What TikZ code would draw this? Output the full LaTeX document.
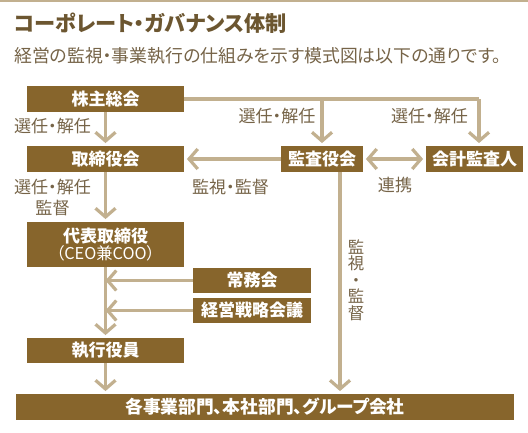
\documentclass[tikz,border=0pt]{standalone}
\usepackage{fontspec}
\setmainfont{Noto Sans CJK JP}[RawFeature={+palt}]
\usetikzlibrary{arrows.meta,calc}
\definecolor{boxbrown}{RGB}{135,101,44}
\definecolor{linetan}{RGB}{194,176,143}
\definecolor{labeltxt}{RGB}{118,100,72}
\definecolor{titletxt}{RGB}{108,86,48}
\tikzset{
  box/.style={fill=boxbrown, text=white, inner sep=0pt, font=\fontsize{12.75}{14}\selectfont\bfseries, minimum height=19.5pt},
  conn/.style={draw=linetan, line width=2.4pt},
  arr/.style={conn, -{Straight Barb[length=6.5pt,width=15pt,line width=2.4pt]}, shorten >=2pt},
  darr/.style={conn, {Straight Barb[length=6.5pt,width=15pt,line width=2.4pt]}-{Straight Barb[length=6.5pt,width=15pt,line width=2.4pt]}, shorten >=2pt, shorten <=2pt},
  lbl/.style={text=labeltxt, inner sep=0pt, font=\fontsize{12.8}{14}\selectfont}
}
\begin{document}
\begin{tikzpicture}[x=0.75pt,y=-0.75pt]
\useasboundingbox (0,0) rectangle (528,432);
\fill[white] (0,0) rectangle (528,432);
\draw[linetan, line width=1.5pt] (0,1) -- (528,1);
% title
\node[anchor=west, text=titletxt, inner sep=0pt, font=\fontsize{15.9}{17}\selectfont\bfseries] (title) at (14,23.5) {コーポレート・ガバナンス体制};
\node[anchor=west, text=labeltxt, inner sep=0pt, font=\fontsize{13.4}{15}\selectfont] (sub) at (14,55.5) {経営の監視・事業執行の仕組みを示す模式図は以下の通りです。};
% boxes
\node[box, minimum width=117.75pt] (N1) at (105.5,99) {株主総会};
\node[box, minimum width=117.75pt] (N2) at (105.5,159) {取締役会};
\node[box, minimum width=61.5pt] (N3) at (322,159) {監査役会};
\node[box, minimum width=72.75pt] (N4) at (474.5,159) {会計監査人};
\node[box, minimum width=117.75pt, minimum height=33.75pt, align=center] (N5) at (105.5,244.5) {代表取締役\\[-1.5pt]{\fontsize{12.2}{13}\selectfont\mdseries （CEO兼COO）}};
\node[box, minimum width=88.5pt, minimum height=18.75pt] (N6) at (252,280.5) {常務会};
\node[box, minimum width=88.5pt, minimum height=18.75pt] (N7) at (252,310.5) {経営戦略会議};
\node[box, minimum width=117.75pt, minimum height=18.75pt] (N8) at (105.5,350.5) {執行役員};
\node[box, minimum width=373.5pt, font=\fontsize{13.3}{14}\selectfont\bfseries] (N9) at (265,407) {各事業部門、本社部門、グループ会社};
% coordinates
\coordinate (corner) at (479,99);
\coordinate (c3) at (340,172);
% connectors
\draw[arr] (N1.south) -- (N2.north);
\draw[conn] (N1.east) -- (corner);
\draw[arr] (corner) -- (corner |- N4.north);
\draw[arr] (N1.east -| N3.north) -- (N3.north);
\draw[arr] (N3.west) -- (N2.east);
\draw[darr] (N3.east) -- (N4.west);
\draw[arr] (N2.south) -- (N5.north);
\draw[arr] (N5.south) -- (N8.north);
\draw[arr, shorten >=0pt] (N6.west) -- (N6.west -| N5.south);
\draw[arr, shorten >=0pt] (N7.west) -- (N7.west -| N5.south);
\draw[arr] (N8.south) -- (N8.south |- N9.north);
\draw[arr] (c3) -- (c3 |- N9.north);
% labels
\node[lbl] (L1) at (52.5,126) {選任・解任};
\node[lbl] (L2) at (277,116) {選任・解任};
\node[lbl] (L3) at (429.5,116) {選任・解任};
\node[lbl] (L4) at (230.5,187) {監視・監督};
\node[lbl] (L5) at (395,185) {連携};
\node[lbl] (L6) at (52.5,187) {選任・解任};
\node[lbl] (L7) at (52.5,208) {監督};
\node[lbl, align=center, font=\fontsize{12.3}{12.4}\selectfont] (L8) at (356,280) {監\\視\\・\\監\\督};
\end{tikzpicture}
\end{document}
